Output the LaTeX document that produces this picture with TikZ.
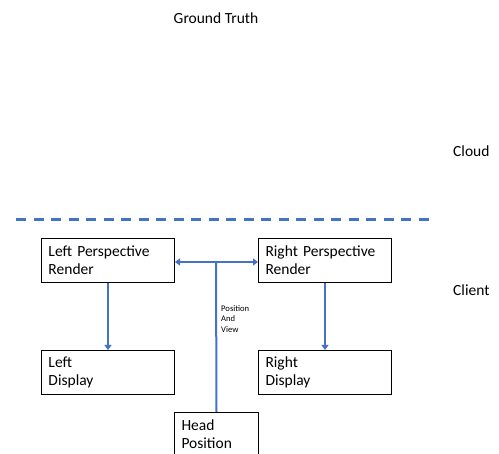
\documentclass[tikz,border=0pt]{standalone}
\usepackage{fontspec}
\setmainfont{Carlito}
\usetikzlibrary{arrows.meta}
\definecolor{lineblue}{HTML}{4472C4}
\begin{document}
\begin{tikzpicture}[x=1pt,y=-1pt,
  box/.style={draw=black, line width=1pt, rectangle, minimum width=133pt, minimum height=44pt,
    text width=119pt, inner xsep=7pt, inner ysep=0pt, align=left, anchor=north west,
    font=\fontsize{15.5pt}{18pt}\selectfont},
  headbox/.style={box, minimum width=84pt, text width=70pt},
  flow/.style={draw=lineblue, line width=2pt},
  tip/.style={-{Triangle[width=7pt,length=5pt]}},
  lbl/.style={font=\fontsize{15.5pt}{18pt}\selectfont, inner sep=0pt},
  small/.style={font=\fontsize{8.6pt}{10.5pt}\selectfont, inner sep=0pt, align=left, anchor=west}]
\useasboundingbox (0,0) rectangle (499,454);
\node[lbl] (gt) at (216,18) {Ground Truth};
\node[lbl, anchor=west] (cloud) at (453,151) {Cloud};
\node[lbl, anchor=west] (client) at (453,290) {Client};
\coordinate (dl) at (16,220);
\coordinate (dr) at (433,220);
\draw[draw=lineblue, line width=3pt, dash pattern=on 10pt off 7.5pt] (dl) -- (dr);
\node[box] (lpr) at (41,238) {Left Perspective\\Render};
\node[box] (rpr) at (258,238) {Right Perspective\\Render};
\node[box] (ld) at (41,350) {Left\\Display};
\node[box] (rd) at (258,350) {Right\\Display};
\node[headbox] (head) at (174,412) {Head\\Position};
\coordinate (junc) at (216,262);
\draw[flow] (head.north) -- (junc);
\draw[flow, {Triangle[width=7pt,length=5pt]}-{Triangle[width=7pt,length=5pt]}] (lpr.east |- junc) -- (rpr.west |- junc);
\draw[flow, tip] (lpr.south) -- (ld.north);
\draw[flow, tip] (rpr.south) -- (rd.north);
\node[small] (pav) at (221,319) {Position\\And\\View};
\end{tikzpicture}
\end{document}
